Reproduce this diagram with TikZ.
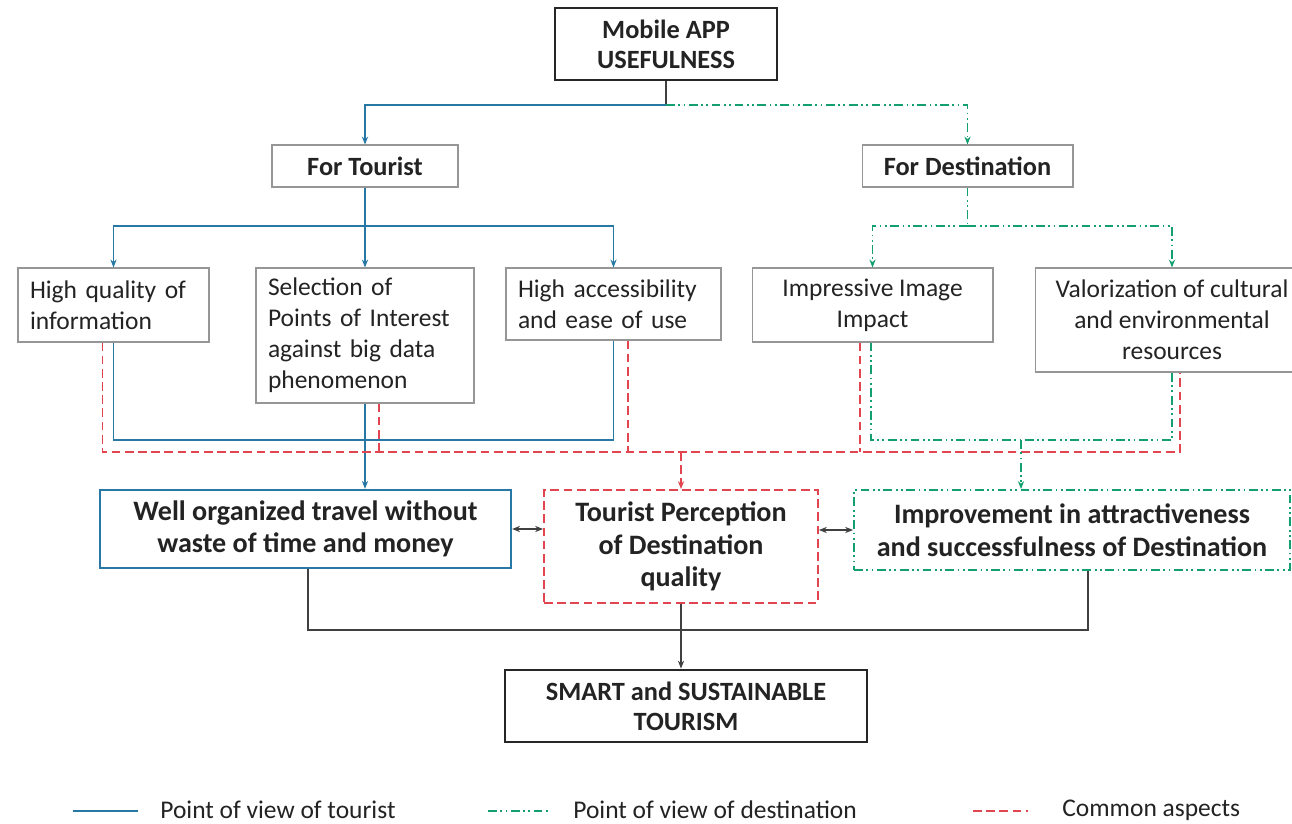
\documentclass[tikz,border=0pt]{standalone}
\usepackage{fontspec}
\setmainfont{Carlito}
\usetikzlibrary{arrows.meta}
\definecolor{tblue}{RGB}{40,120,165}
\definecolor{dgreen}{RGB}{20,160,110}
\definecolor{cred}{RGB}{225,70,80}
\definecolor{boxgray}{RGB}{150,150,150}
\definecolor{txt}{RGB}{35,35,35}
\begin{document}
\begin{tikzpicture}[x=0.02cm,y=-0.02cm,
  box/.style={draw=boxgray, line width=0.6pt, fill=white, text=txt, inner sep=0pt,
    font=\fontsize{14.5}{17.6}\selectfont},
  lbox/.style={box, align=left, inner xsep=0.24cm},
  cbox/.style={box, align=center},
  bbox/.style={draw=black!85, line width=1.6pt, fill=white, text=txt, inner sep=0pt, align=center,
    font=\bfseries\fontsize{15}{17.2}\selectfont},
  sbox/.style={box, font=\bfseries\fontsize{15}{17.2}\selectfont},
  hbox/.style={fill=white, text=txt, inner sep=0pt, align=center,
    font=\bfseries\fontsize{16}{18.5}\selectfont},
  tline/.style={tblue, line width=1.1pt},
  dline/.style={dgreen, line width=1.1pt, dash pattern=on 5pt off 2pt on 1pt off 2pt on 1pt off 2pt},
  cline/.style={cred, line width=1.1pt, dash pattern=on 5pt off 2.5pt},
  kline/.style={black!75, line width=1.1pt},
  tip/.style={-{Stealth[length=4.5pt,width=3.5pt]}},
  dtip/.style={{Stealth[length=4.5pt,width=3.5pt]}-{Stealth[length=4.5pt,width=3.5pt]}},
  legtext/.style={anchor=west, text=txt, inner sep=0pt, font=\fontsize{14.5}{17.6}\selectfont}
]
\useasboundingbox (0,0) rectangle (1292,824);
\fill[white] (0,0) rectangle (1292,824);

% boxes
\node[bbox, minimum width=4.44cm, minimum height=1.44cm] (mob) at (666,44) {Mobile APP\\USEFULNESS};
\node[sbox, minimum width=3.72cm, minimum height=0.84cm] (ft) at (365,166) {For Tourist};
\node[sbox, minimum width=4.22cm, minimum height=0.84cm] (fd) at (967.5,166) {For Destination};

\node[lbox, text width=3.34cm, minimum height=1.48cm] (hq) at (113.5,305) {High quality of\\information};
\node[lbox, text width=3.88cm, minimum height=2.7cm] (sel) at (365,335.5) {Selection of\\Points of Interest\\against big data\\phenomenon};
\node[lbox, text width=3.82cm, minimum height=1.44cm] (ha) at (613.5,304) {High accessibility\\and ease of use};
\node[cbox, minimum width=4.82cm, minimum height=1.48cm] (ii) at (872.5,305) {Impressive Image\\Impact};
\node[cbox, minimum width=5.48cm, minimum height=2.08cm] (val) at (1172,320) {Valorization of cultural\\and environmental\\resources};

\node[hbox, draw=tblue, line width=1.3pt, minimum width=8.22cm, minimum height=1.56cm] (wo) at (305.5,529) {Well organized travel without\\waste of time and money};
\node[hbox, draw=cred, line width=1.1pt, dash pattern=on 5pt off 2.5pt, minimum width=5.48cm, minimum height=2.26cm] (tp) at (681,546.5) {Tourist Perception\\of Destination\\quality};
\node[hbox, draw=dgreen, line width=1.1pt, dash pattern=on 5pt off 2pt on 1pt off 2pt on 1pt off 2pt, minimum width=8.72cm, minimum height=1.6cm] (imp) at (1072,530) {Improvement in attractiveness\\and successfulness of Destination};

\node[bbox, minimum width=7.24cm, minimum height=1.44cm] (smart) at (686,706) {SMART and SUSTAINABLE\\TOURISM};

% helper levels
\coordinate (s0) at (0,105);
\coordinate (s1) at (0,226);
\coordinate (s2) at (0,440);
\coordinate (s3) at (0,452);
\coordinate (s4) at (0,630);

% top split
\draw[kline] (mob.south) -- (mob.south |- s0);
\draw[tline, tip] (mob.south |- s0) -| (ft.north);
\draw[dline, tip] (mob.south |- s0) -| (fd.north);

% tourist branch
\draw[tline] (ft.south) -- (ft.south |- s1);
\draw[tline, tip] (ft.south |- s1) -| (hq.north);
\draw[tline, tip] (ft.south |- s1) -| (ha.north);
\draw[tline, tip] (ft.south |- s1) -- (sel.north);

% destination branch
\draw[dline] (fd.south) -- (fd.south |- s1);
\draw[dline, tip] (fd.south |- s1) -| (ii.north);
\draw[dline, tip] (fd.south |- s1) -| (val.north);

% blue collector
\draw[tline] (hq.south) -- (hq.south |- s2) -- (ha.south |- s2) -- (ha.south);
\draw[tline, tip] (sel.south) -- (sel.south |- wo.north);

% red collector
\coordinate (r1) at ([xshift=-0.22cm]hq.south);
\coordinate (r2) at ([xshift=0.28cm]sel.south);
\coordinate (r3) at ([xshift=0.29cm]ha.south);
\coordinate (r4) at ([xshift=-0.25cm]ii.south);
\coordinate (r5) at ([xshift=0.16cm]val.south);
\draw[cline] (r1) -- (r1 |- s3) -- (r5 |- s3) -- (r5);
\draw[cline] (r2) -- (r2 |- s3);
\draw[cline] (r3) -- (r3 |- s3);
\draw[cline] (r4) -- (r4 |- s3);
\draw[cline, tip] (tp.north |- s3) -- (tp.north);

% green collector
\coordinate (g1) at ([xshift=-0.03cm]ii.south);
\draw[dline] (g1) -- (g1 |- s2) -- (val.south |- s2) -- (val.south);
\coordinate (g3) at (1021,440);
\draw[dline, tip] (g3) -- (g3 |- imp.north);

% double arrows
\draw[kline, dtip] (wo.east) -- (wo.east -| tp.west);
\draw[kline, dtip] (tp.east |- imp.west) -- (imp.west);

% to final
\coordinate (k1) at ([xshift=0.05cm]wo.south);
\coordinate (k2) at ([xshift=0.32cm]imp.south);
\draw[kline] (k1) -- (k1 |- s4) -- (k2 |- s4) -- (k2);
\draw[kline, tip] (tp.south) -- (tp.south |- smart.north);

% legend
\coordinate (la1) at (73,811); \coordinate (la2) at (138,811);
\coordinate (lb1) at (488,811); \coordinate (lb2) at (548,811);
\coordinate (lc1) at (973,811); \coordinate (lc2) at (1028,811);
\draw[tline] (la1) -- (la2);
\draw[dline] (lb1) -- (lb2);
\draw[cline] (lc1) -- (lc2);
\node[legtext] (lt1) at (160,810) {Point of view of tourist};
\node[legtext] (lt2) at (573,810) {Point of view of destination};
\node[legtext] (lt3) at (1062,810) {Common aspects};
\end{tikzpicture}
\end{document}
